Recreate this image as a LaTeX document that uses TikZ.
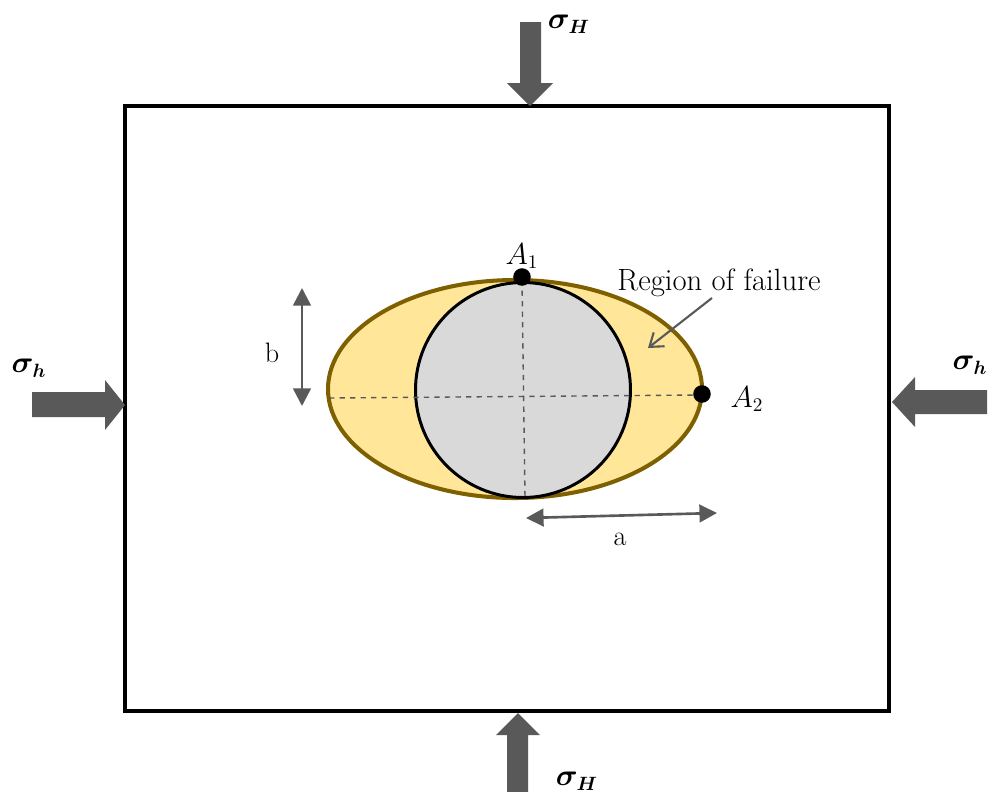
\documentclass[tikz,border=0pt]{standalone}
\usepackage{bm}
\usepackage{tikz}
\usetikzlibrary{positioning, arrows.meta, calc}
\definecolor{forcegray}{HTML}{595959}
\definecolor{rimgold}{HTML}{7F6000}
\definecolor{failfill}{HTML}{FFE699}
\definecolor{boregray}{HTML}{D9D9D9}
\tikzset{
  force/.style={fill=forcegray},
  dimline/.style={draw=forcegray, line width=1.5pt, {Triangle[length=10pt,width=10pt]}-{Triangle[length=10pt,width=10pt]}},
  axisline/.style={draw=forcegray, dashed, line width=0.8pt},
  lbl/.style={font=\fontsize{16}{19}\selectfont, inner sep=1pt},
  dot/.style={circle, fill=black, minimum size=10pt, inner sep=0pt}
}

\begin{document}
\begin{tikzpicture}[x=0.02cm, y=-0.02cm]
    \useasboundingbox (0,0) rectangle (992,792);
    % loading frame
    \draw[line width=2.3pt] (125,106) rectangle (889,711);
    % applied stresses
    \fill[force] (520,22) -- (541,22) -- (541,83) -- (553,83) -- (530,106) -- (507,83) -- (520,83) -- cycle;
    \fill[force] (507,792) -- (528,792) -- (528,735) -- (540,735) -- (518,713) -- (496,735) -- (507,735) -- cycle;
    \fill[force] (32,392) -- (105,392) -- (105,380) -- (125,405) -- (105,430) -- (105,417) -- (32,417) -- cycle;
    \fill[force] (987,390) -- (915,390) -- (915,377) -- (892,402) -- (915,427) -- (915,414) -- (987,414) -- cycle;
    \node[lbl] (sHtop) at (569,24) {$\bm{\sigma_H}$};
    \node[lbl] (sHbot) at (577,781) {$\bm{\sigma_H}$};
    \node[lbl] (shleft) at (29,368) {$\bm{\sigma_h}$};
    \node[lbl] (shright) at (970,365) {$\bm{\sigma_h}$};
    % failure zone and borehole
    \draw[draw=rimgold, fill=failfill, line width=2.3pt] (515,389) ellipse [x radius=187, y radius=109];
    \draw[fill=boregray, line width=1.7pt] (523,390) circle [radius=107.5];
    \coordinate (hl) at (329,398);
    \coordinate (hr) at (702,395);
    \coordinate (vt) at (522,280);
    \coordinate (vb) at (525,497);
    \draw[axisline] (hl) -- (hr);
    \draw[axisline] (vt) -- (vb);
    % critical points
    \node[dot] (A1) at (522,277) {};
    \node[dot] (A2) at (702,394) {};
    \node[lbl] (A1lbl) at (522,256) {$A_1$};
    \node[lbl] (A2lbl) at (747,399) {$A_2$};
    % semi axes
    \coordinate (btop) at (302,288);
    \coordinate (bbot) at (302,406);
    \draw[dimline] (btop) -- (bbot);
    \node[lbl] (blbl) at (272,353) {b};
    \coordinate (aleft) at (526,518);
    \coordinate (aright) at (717,513);
    \draw[dimline] (aleft) -- (aright);
    \node[lbl] (albl) at (620,539) {a};
    % failure label
    \node[lbl, font=\fontsize{17.5}{20}\selectfont] (fail) at (719,283) {Region of failure};
    \coordinate (failtip) at (648,348);
    \draw[draw=forcegray, line width=1.2pt, -{Straight Barb[length=7pt,width=10pt]}] (712,298) -- (failtip);
\end{tikzpicture}
\end{document}
